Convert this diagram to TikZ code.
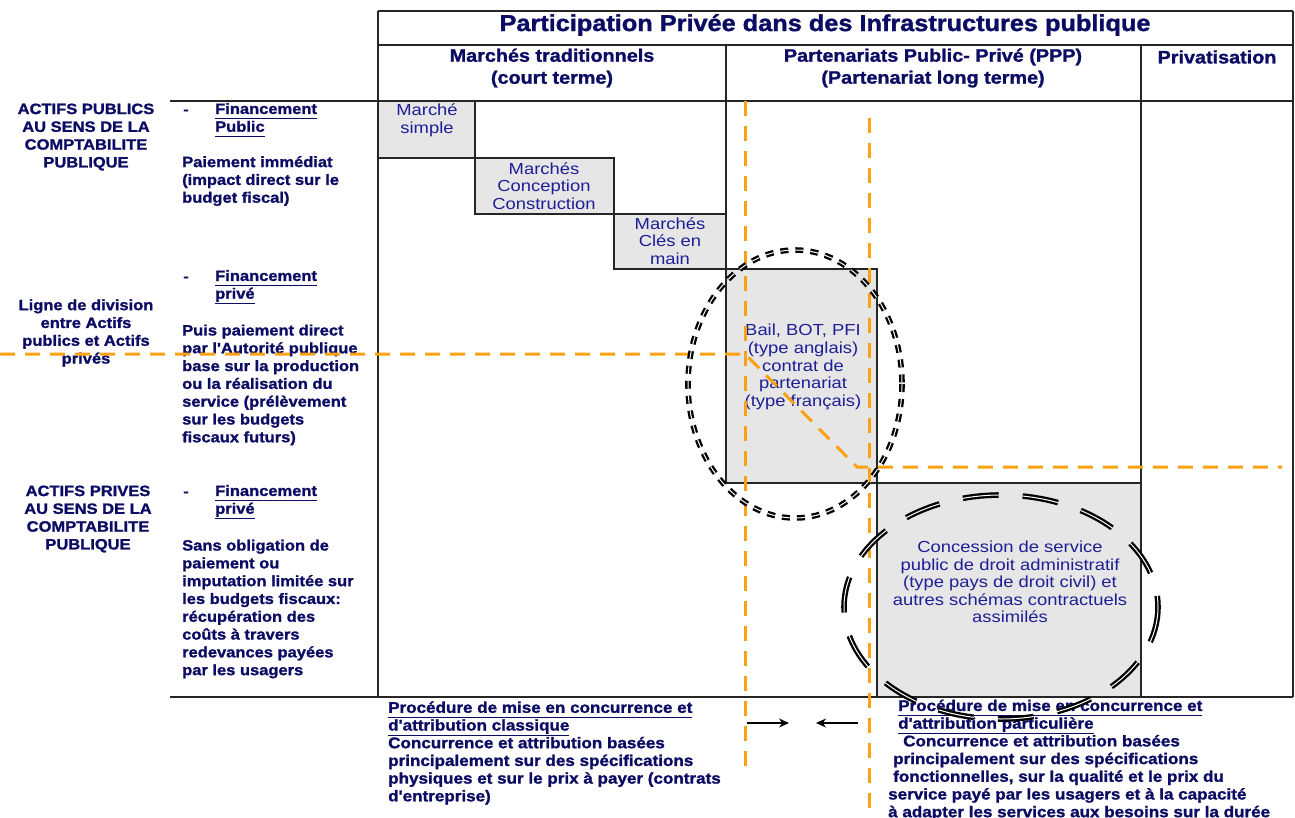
\documentclass[tikz,border=0pt]{standalone}
\usepackage{fontspec}
\setmainfont{Liberation Sans}
\newfontfamily\hvfont{Liberation Sans Bold}[FakeStretch=1.1,FakeBold=1.4]
\newfontfamily\bxfont{Liberation Sans}[FakeStretch=1.15]
\usetikzlibrary{arrows.meta}
\definecolor{navytext}{RGB}{12,12,100}
\definecolor{boxtext}{RGB}{30,30,150}
\definecolor{boxfill}{RGB}{230,230,230}
\definecolor{divline}{RGB}{250,162,20}
\newcommand{\ulx}[1]{\underline{#1\vphantom{gp}}}
\tikzset{
  grid/.style={draw=black!85, line width=1.2pt},
  shaded/.style={fill=boxfill, draw=black!85, line width=1.2pt},
  titletxt/.style={text=navytext, inner sep=0, align=center, font=\hvfont\fontsize{23}{27}\selectfont},
  headtxt/.style={text=navytext, inner sep=0, align=center, font=\hvfont\fontsize{18}{22}\selectfont},
  sidetxt/.style={text=navytext, inner sep=0, align=center, font=\hvfont\fontsize{15}{17.8}\selectfont},
  bodytxt/.style={text=navytext, inner sep=0, align=left, anchor=west, font=\hvfont\fontsize{15}{17.8}\selectfont},
  foottxt/.style={text=navytext, inner sep=0, align=left, anchor=west, font=\hvfont\fontsize{15.5}{17.7}\selectfont},
  boxtxt/.style={text=boxtext, inner sep=0, align=center, font=\bxfont\fontsize{16}{17.6}\selectfont},
  divider/.style={draw=divline, line width=3pt, dash pattern=on 15pt off 10pt},
  ringdot/.style={draw=black, line width=2.3pt, double=white, double distance=1pt, dash pattern=on 8pt off 7pt},
  ringdash/.style={draw=black, line width=2.3pt, double=white, double distance=1pt, dash pattern=on 36pt off 24pt},
  pusharrow/.style={-{Stealth[length=10pt,width=9pt]}, line width=1.1pt}
}
\begin{document}
\begin{tikzpicture}[x=1pt,y=-1pt]
\useasboundingbox (0,0) rectangle (1295,818);

% shaded contract boxes
\draw[shaded] (378,101) rectangle (475,158);
\draw[shaded] (475,158) rectangle (614,214);
\draw[shaded] (614,214) rectangle (726,269);
\draw[shaded] (726,269) rectangle (877,483);
\draw[shaded] (877,483) rectangle (1141,697);

% table frame
\draw[grid] (378,11) -- (1293,11);
\draw[grid] (378,45) -- (1293,45);
\draw[grid] (170,101) -- (1293,101);
\draw[grid] (170,697) -- (1293,697);
\draw[grid] (378,11) -- (378,697);
\draw[grid] (1293,11) -- (1293,697);
\draw[grid] (726,45) -- (726,483);
\draw[grid] (1141,45) -- (1141,697);
\draw[grid] (877,483) -- (1141,483);

% headings
\node[titletxt] (title) at (825,25) {Participation Privée dans des Infrastructures publique};
\node[headtxt] (trad) at (552,68) {Marchés traditionnels\\(court terme)};
\node[headtxt] (ppp) at (933,68) {Partenariats Public- Privé (PPP)\\(Partenariat long terme)};
\node[headtxt] (priv) at (1217,57) {Privatisation};

% left column
\node[sidetxt] (pubassets) at (86,137) {ACTIFS PUBLICS\\AU SENS DE LA\\COMPTABILITE\\PUBLIQUE};
\node[sidetxt] (divlabel) at (86,333) {Ligne de division\\entre Actifs\\publics et Actifs\\privés};
\node[sidetxt] (privassets) at (88,519) {ACTIFS PRIVES\\AU SENS DE LA\\COMPTABILITE\\PUBLIQUE};

% financing column
\node[bodytxt] (dashA) at (183,112) {-};
\node[bodytxt] (finA) at (215,120) {\ulx{Financement}\\\ulx{Public}};
\node[bodytxt] (payA) at (182,181) {Paiement immédiat\\(impact direct sur le\\budget fiscal)};
\node[bodytxt] (dashB) at (183,279) {-};
\node[bodytxt] (finB) at (215,287) {\ulx{Financement}\\\ulx{privé}};
\node[bodytxt] (payB) at (182,385) {Puis paiement direct\\par l'Autorité publique\\base sur la production\\ou la réalisation du\\service (prélèvement\\sur les budgets\\fiscaux futurs)};
\node[bodytxt] (dashC) at (183,494) {-};
\node[bodytxt] (finC) at (215,502) {\ulx{Financement}\\\ulx{privé}};
\node[bodytxt] (payC) at (182,609) {Sans obligation de\\paiement ou\\imputation limitée sur\\les budgets fiscaux:\\récupération des\\coûts à travers\\redevances payées\\par les usagers};

% contract types
\node[boxtxt] (simple) at (427,120) {Marché\\simple};
\node[boxtxt] (design) at (544,186) {Marchés\\Conception\\Construction};
\node[boxtxt] (turnkey) at (670,241) {Marchés\\Clés en\\main};
\node[boxtxt] (lease) at (803,367) {Bail, BOT, PFI\\(type anglais)\\contrat de\\partenariat\\(type français)};
\node[boxtxt] (concession) at (1010,582) {Concession de service\\public de droit administratif\\(type pays de droit civil) et\\autres schémas contractuels\\assimilés};

% award procedures
\node[foottxt] (procA) at (388,753) {\ulx{Procédure de mise en concurrence et}\\\ulx{d'attribution classique}\\Concurrence et attribution basées\\principalement sur des spécifications\\physiques et sur le prix à payer (contrats\\d'entreprise)};
\node[foottxt] (procB) at (888,760) {\hspace*{10pt}\ulx{Procédure de mise en concurrence et}\\\hspace*{10pt}\ulx{d'attribution particulière}\\\hspace*{15pt}Concurrence et attribution basées\\\hspace*{5pt}principalement sur des spécifications\\\hspace*{5pt}fonctionnelles, sur la qualité et le prix du\\service payé par les usagers et à la capacité\\à adapter les services aux besoins sur la durée};

% division lines
\coordinate (dL) at (0,354);
\coordinate (dK) at (745,354);
\coordinate (dM) at (857,467);
\coordinate (dR) at (1282,467);
\draw[divider] (dL) -- (dK) -- (dM) -- (dR);
\coordinate (vAt) at (745,101);
\coordinate (vAb) at (745,766);
\coordinate (vBt) at (869,118);
\coordinate (vBb) at (869,818);
\draw[divider] (vAt) -- (vAb);
\draw[divider] (vBt) -- (vBb);

% converging arrows
\coordinate (arA1) at (747,723);
\coordinate (arA2) at (789,723);
\coordinate (arB1) at (858,723);
\coordinate (arB2) at (816,723);
\draw[pusharrow] (arA1) -- (arA2);
\draw[pusharrow] (arB1) -- (arB2);

% grouping rings
\draw[ringdot] (795,384) ellipse [x radius=107, y radius=134];
\draw[ringdash] (1001,607) ellipse [x radius=157, y radius=112];
\end{tikzpicture}
\end{document}
